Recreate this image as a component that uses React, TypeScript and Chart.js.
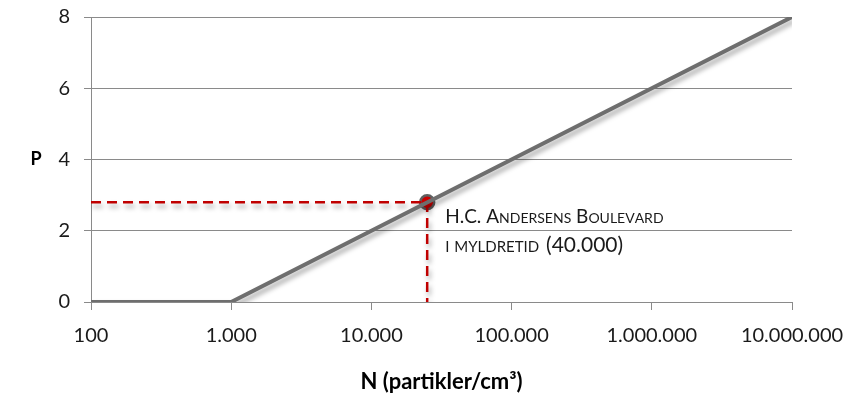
import React, { useEffect, useRef } from "react";
import { Chart, registerables } from "chart.js";

Chart.register(...registerables);

// ---- data ----
const lineN = [100, 1000, 10000000];
const lineP = [0, 0, 8];
const markerN = 25000;
const markerP = 2.8;
const xTickValues = [100, 1000, 10000, 100000, 1000000, 10000000];
const yTickValues = [0, 2, 4, 6, 8];
const markerLabel1 = "H.C. Andersens Boulevard";
const markerLabel2 = "i myldretid";
const markerLabel3 = "(40.000)";
const xTitle = "N (partikler/cm³)";
const yTitle = "P";

const FONT = "Lato, 'Open Sans', sans-serif";
const GRID = "#8a8a8a";
const RED = "#c00000";

function fmt(v: number) {
  return String(v).replace(/\B(?=(\d{3})+(?!\d))/g, ".");
}

function drawSmallCaps(ctx: CanvasRenderingContext2D, text: string, x: number, y: number, big: number, small: number) {
  let cx = x;
  for (const ch of text) {
    const isLower = ch !== ch.toUpperCase();
    ctx.font = `${isLower ? small : big}px ${FONT}`;
    const c = isLower ? ch.toUpperCase() : ch;
    ctx.fillText(c, cx, y);
    cx += ctx.measureText(c).width;
  }
  return cx;
}

const shadowPlugin = {
  id: "shadowPlugin",
  beforeDatasetDraw(chart: any, args: any) {
    const ctx = chart.ctx;
    ctx.save();
    if (args.index === 0 || args.index === 1) {
      ctx.shadowColor = "rgba(0,0,0,0.35)";
      ctx.shadowBlur = 5;
      ctx.shadowOffsetX = 2;
      ctx.shadowOffsetY = 4;
    }
  },
  afterDatasetDraw(chart: any) {
    chart.ctx.restore();
  },
};

const textPlugin = {
  id: "textPlugin",
  afterDraw(chart: any) {
    const ctx = chart.ctx;
    const xs = chart.scales.x;
    const ys = chart.scales.y;
    const px = xs.getPixelForValue(markerN);
    const py = ys.getPixelForValue(markerP);
    ctx.save();
    ctx.fillStyle = "#1a1a1a";
    ctx.textBaseline = "alphabetic";
    ctx.textAlign = "left";
    drawSmallCaps(ctx, markerLabel1, px + 18, py + 21, 19, 14);
    const ex = drawSmallCaps(ctx, markerLabel2 + " ", px + 18, py + 50, 19, 15);
    ctx.font = `21px ${FONT}`;
    ctx.fillText(markerLabel3, ex + 2, py + 50);
    // y title
    ctx.font = `bold 18px ${FONT}`;
    ctx.fillStyle = "#000";
    ctx.textAlign = "center";
    ctx.textBaseline = "middle";
    ctx.fillText(yTitle, 36, ys.getPixelForValue(4));
    ctx.restore();
  },
};

export default function App() {
  const ref = useRef<HTMLCanvasElement>(null);
  useEffect(() => {
    if (!ref.current) return;
    const chart = new Chart(ref.current, {
      type: "line",
      data: {
        datasets: [
          {
            data: lineN.map((n, i) => ({ x: n, y: lineP[i] })),
            borderColor: "#6e6e6e",
            borderWidth: 4,
            pointRadius: 0,
            tension: 0,
          },
          {
            data: [
              { x: lineN[0], y: markerP },
              { x: markerN, y: markerP },
              { x: markerN, y: 0 },
            ],
            borderColor: RED,
            borderWidth: 2.5,
            borderDash: [10, 6],
            pointRadius: 0,
          },
          {
            data: [{ x: markerN, y: markerP }],
            showLine: false,
            pointRadius: 7,
            pointBackgroundColor: "#cc0000",
            pointBorderColor: "#5f5f5f",
            pointBorderWidth: 2.5,
          },
        ],
      } as any,
      options: {
        animation: false,
        responsive: true,
        maintainAspectRatio: false,
        layout: { padding: { top: 17, right: 57, left: 0, bottom: 0 } },
        plugins: { legend: { display: false }, tooltip: { enabled: false } },
        scales: {
          x: {
            type: "logarithmic",
            min: 100,
            max: 10000000,
            afterBuildTicks: (s: any) => {
              s.ticks = xTickValues.map((v) => ({ value: v }));
            },
            afterFit: (s: any) => {
              s.height = 100;
              s.paddingLeft = 0;
              s.paddingRight = 0;
            },
            ticks: {
              autoSkip: false,
              maxRotation: 0,
              padding: 14,
              color: "#1a1a1a",
              font: { family: FONT, size: 20 },
              callback: (v: any) => fmt(Number(v)),
            },
            grid: { drawOnChartArea: false, drawTicks: true, tickLength: 8, color: GRID },
            border: { color: GRID, width: 1 },
            title: {
              display: true,
              text: xTitle,
              color: "#000",
              font: { family: FONT, size: 22, weight: "bold" },
              padding: { top: 0, bottom: 7 },
            },
          },
          y: {
            type: "linear",
            min: 0,
            max: 8,
            afterBuildTicks: (s: any) => {
              s.ticks = yTickValues.map((v) => ({ value: v }));
            },
            afterFit: (s: any) => {
              s.width = 91;
              s.paddingTop = 0;
              s.paddingBottom = 0;
            },
            ticks: {
              padding: 14,
              color: "#1a1a1a",
              font: { family: FONT, size: 20 },
            },
            grid: { color: GRID, tickLength: 7 },
            border: { color: GRID, width: 1 },
          },
        },
      } as any,
      plugins: [shadowPlugin, textPlugin],
    });
    return () => chart.destroy();
  }, []);
  return (
    <div style={{ position: "fixed", left: 0, top: 0, width: 849, height: 402, background: "#fff" }}>
      <canvas ref={ref} />
    </div>
  );
}
